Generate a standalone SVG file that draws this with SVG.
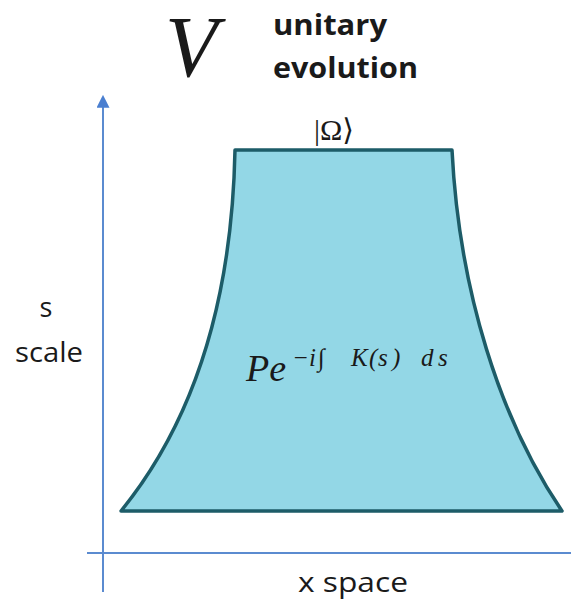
<svg xmlns="http://www.w3.org/2000/svg" width="571" height="604" viewBox="0 0 571 604">
<style>
.ax{stroke:#5b8bd0;stroke-width:2;fill:none}
.sans{font-family:"Open Sans","Liberation Sans",sans-serif;fill:#1a1a1a}
.serif{font-family:"Liberation Serif","DejaVu Serif",serif;fill:#1a1a1a}
</style>
<defs>
<marker id="ah" viewBox="0 0 12 12" refX="10" refY="6" markerWidth="13" markerHeight="13" markerUnits="userSpaceOnUse" orient="auto">
<path d="M0,0 L12,6 L0,12 Z" fill="#4a7fd0"/>
</marker>
</defs>
<rect width="571" height="604" fill="#fff"/>
<g id="connectors">
<line class="ax" x1="103" y1="592" x2="103" y2="97" marker-end="url(#ah)"/>
<line class="ax" x1="87" y1="553" x2="571" y2="553"/>
</g>
<g id="region">
<path d="M235,150 L452,150 C459,290 500,420 562,511 L121,511 C195,420 232,300 235,150 Z" fill="#93d7e6" stroke="#1d5c68" stroke-width="3.5" stroke-linejoin="round"/>
<text class="serif" x="246" y="381" font-size="38" font-style="italic">Pe</text>
<text class="serif" y="366" font-size="25" font-style="italic"><tspan x="292 309 318">−i∫</tspan><tspan x="351 369 378 392">K(s)</tspan><tspan x="421 438">ds</tspan></text>
</g>
<g id="title">
<text class="serif" x="165" y="76" font-size="86" font-style="italic">V</text>
<text class="sans" x="273" y="35" font-size="28" font-weight="bold" textLength="114" lengthAdjust="spacingAndGlyphs">unitary</text>
<text class="sans" x="273" y="78" font-size="28" font-weight="bold" textLength="145" lengthAdjust="spacingAndGlyphs">evolution</text>
<text class="serif" x="334" y="140" font-size="30" text-anchor="middle">|Ω⟩</text>
</g>
<g id="labels">
<text class="sans" x="46" y="317" font-size="27" text-anchor="middle">s</text>
<text class="sans" x="15" y="362" font-size="27" textLength="68" lengthAdjust="spacingAndGlyphs">scale</text>
<text class="sans" x="298" y="592" font-size="28" textLength="110" lengthAdjust="spacingAndGlyphs">x space</text>
</g>
</svg>
